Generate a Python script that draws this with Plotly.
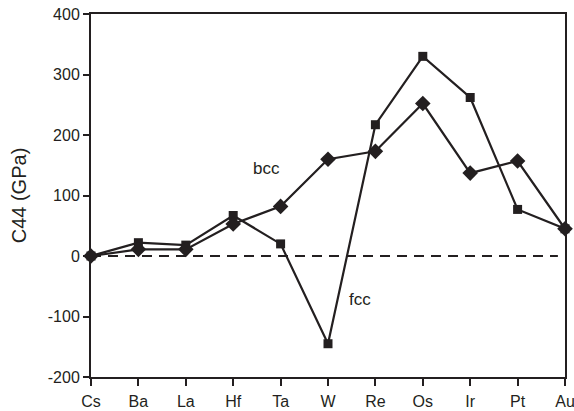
import plotly.graph_objects as go

elements = ["Cs", "Ba", "La", "Hf", "Ta", "W", "Re", "Os", "Ir", "Pt", "Au"]
c44_fcc = [0, 22, 18, 67, 20, -145, 217, 330, 262, 77, 45]
c44_bcc = [0, 11, 11, 53, 82, 160, 173, 252, 137, 157, 45]
y_ticks = [-200, -100, 0, 100, 200, 300, 400]
y_ticktext = [str(v) for v in y_ticks]  # plain hyphen minus signs

x_idx = list(range(len(elements)))
FONT = "Liberation Sans, Arial, Helvetica, sans-serif"
INK = "#231f20"

fig = go.Figure()

# zero reference line
fig.add_trace(go.Scatter(
    x=[x_idx[0], x_idx[-1] - 0.15], y=[0, 0], mode="lines",
    line=dict(color=INK, width=2.2, dash="10px,7px"),
    hoverinfo="skip", showlegend=False, cliponaxis=False,
))

fig.add_trace(go.Scatter(
    x=x_idx, y=c44_fcc, mode="lines+markers", name="fcc",
    line=dict(color=INK, width=2.2),
    marker=dict(symbol="square", size=9, color=INK),
    showlegend=False, cliponaxis=False,
))
fig.add_trace(go.Scatter(
    x=x_idx, y=c44_bcc, mode="lines+markers", name="bcc",
    line=dict(color=INK, width=2.2),
    marker=dict(symbol="diamond", size=12, color=INK),
    showlegend=False, cliponaxis=False,
))

fig.add_annotation(x=3.7, y=145, text="bcc", showarrow=False,
                   font=dict(family=FONT, size=17, color=INK))
fig.add_annotation(x=5.68, y=-72, text="fcc", showarrow=False,
                   font=dict(family=FONT, size=17, color=INK))

fig.update_layout(
    width=574, height=411,
    margin=dict(l=91, r=9, t=14, b=34, autoexpand=False),
    paper_bgcolor="white", plot_bgcolor="white",
    font=dict(family=FONT, size=16, color=INK),
    xaxis=dict(
        range=[0, 10], tickmode="array", tickvals=x_idx, ticktext=elements,
        showgrid=False, zeroline=False, showline=True, linecolor=INK,
        linewidth=2, mirror=True, ticks="outside", ticklen=7,
        tickwidth=1.5, tickcolor=INK, tickfont=dict(size=16),
        ticklabelstandoff=2, automargin=False, ticklabeloverflow="allow",
    ),
    yaxis=dict(
        range=[-200, 400], tickmode="array", tickvals=y_ticks,
        ticktext=y_ticktext,
        showgrid=False, zeroline=False, showline=True, linecolor=INK,
        linewidth=2, mirror=True, ticks="outside", ticklen=6,
        tickwidth=1.5, tickcolor=INK, tickfont=dict(size=16),
        automargin=False,
        title=dict(text="C44 (GPa)", standoff=16,
                   font=dict(family=FONT, size=20)),
    ),
)

fig.write_html("out.html")
